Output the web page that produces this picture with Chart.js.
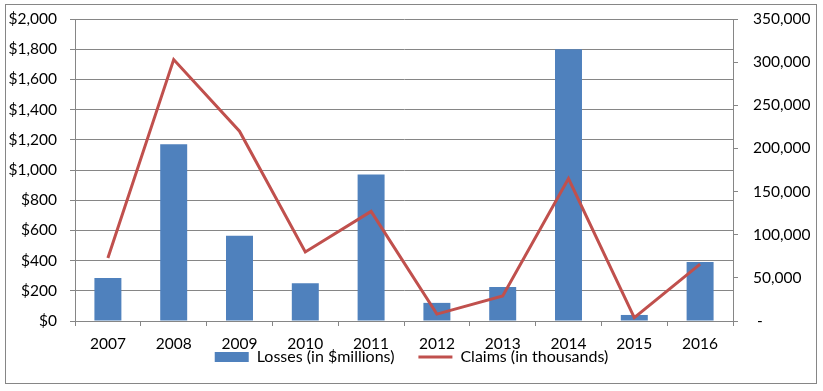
<!DOCTYPE html>
<html>
<head>
<meta charset="utf-8">
<script src="https://cdn.jsdelivr.net/npm/chart.js@4/dist/chart.umd.min.js"></script>
<style>
  html, body { margin: 0; padding: 0; background: #fff; }
  #wrap { position: relative; width: 823px; height: 391px; }
</style>
</head>
<body>
<div id="wrap"><canvas id="c" width="823" height="391"></canvas></div>
<script>
const years = ['2007','2008','2009','2010','2011','2012','2013','2014','2015','2016'];
const losses = [285, 1170, 565, 250, 970, 120, 225, 1800, 40, 390];
const claims = [73000, 303000, 220000, 80000, 127000, 8000, 29000, 165000, 4000, 66000];
const lossLabel = 'Losses (in $millions)';
const claimLabel = 'Claims (in thousands)';

const GRID = '#868686';
const FONT = { family: 'Lato', size: 15.5, lineHeight: 1 };
const LEGEND_FONT = { family: 'Lato', size: 16 };
const LEGEND_GAP = 24;

const borderPlugin = {
  id: 'outerBorder',
  afterDraw(chart) {
    const ctx = chart.ctx;
    ctx.save();
    ctx.strokeStyle = GRID;
    ctx.lineWidth = 1;
    ctx.strokeRect(5.5, 4.5, 811, 379);
    ctx.restore();
  }
};

// Keep the legend compact vertically while keeping wide spacing between items
const legendFix = {
  id: 'legendFix',
  beforeLayout(chart) {
    const lg = chart.legend;
    if (lg && !lg.__fixed) {
      const orig = lg.fit;
      lg.fit = function () { orig.call(this); this.height = 20; };
      lg.__fixed = true;
    }
  },
  afterLayout(chart) {
    const lg = chart.legend;
    if (lg) {
      lg.top = 349 - LEGEND_GAP;
      lg.bottom = chart.height;
    }
  }
};

function trimPad(s) { s.paddingTop = 8; s.paddingBottom = 8; }

new Chart(document.getElementById('c'), {
  data: {
    labels: years,
    datasets: [
      {
        type: 'line',
        label: claimLabel,
        data: claims,
        yAxisID: 'y2',
        borderColor: '#C0504D',
        backgroundColor: '#C0504D',
        borderWidth: 3,
        pointRadius: 0,
        pointStyle: 'line',
        tension: 0,
        order: 0
      },
      {
        type: 'bar',
        label: lossLabel,
        data: losses,
        yAxisID: 'y',
        backgroundColor: '#4F81BD',
        borderWidth: 0,
        pointStyle: 'rect',
        categoryPercentage: 0.41,
        barPercentage: 1,
        order: 1
      }
    ]
  },
  options: {
    responsive: false,
    animation: false,
    devicePixelRatio: 1,
    layout: { padding: { top: 19, bottom: 21, left: 0, right: 0 } },
    plugins: {
      tooltip: { enabled: false },
      legend: {
        position: 'bottom',
        reverse: true,
        labels: {
          font: LEGEND_FONT,
          color: '#000',
          usePointStyle: true,
          boxHeight: 10,
          pointStyleWidth: 34,
          padding: LEGEND_GAP
        }
      }
    },
    scales: {
      x: {
        grid: { display: true, drawOnChartArea: false, offset: true, color: GRID, tickLength: 5 },
        border: { color: GRID },
        ticks: { font: FONT, color: '#000', padding: 10, maxRotation: 0 },
        afterFit(s) { s.height = 29; }
      },
      y: {
        position: 'left',
        min: 0, max: 2000,
        grid: { color: GRID, tickLength: 5 },
        border: { color: GRID },
        ticks: {
          stepSize: 200, font: FONT, color: '#000', padding: 13,
          callback: v => '$' + v.toLocaleString('en-US')
        },
        afterFit(s) { s.width = 75; trimPad(s); }
      },
      y2: {
        position: 'right',
        min: 0, max: 350000,
        grid: { drawOnChartArea: false, color: GRID, tickLength: 5 },
        border: { color: GRID },
        ticks: {
          stepSize: 50000, font: FONT, color: '#000', padding: 15, crossAlign: 'near',
          callback: v => v === 0 ? ' -' : v.toLocaleString('en-US')
        },
        afterFit(s) { s.width = 90; trimPad(s); }
      }
    }
  },
  plugins: [borderPlugin, legendFix]
});
</script>
</body>
</html>
